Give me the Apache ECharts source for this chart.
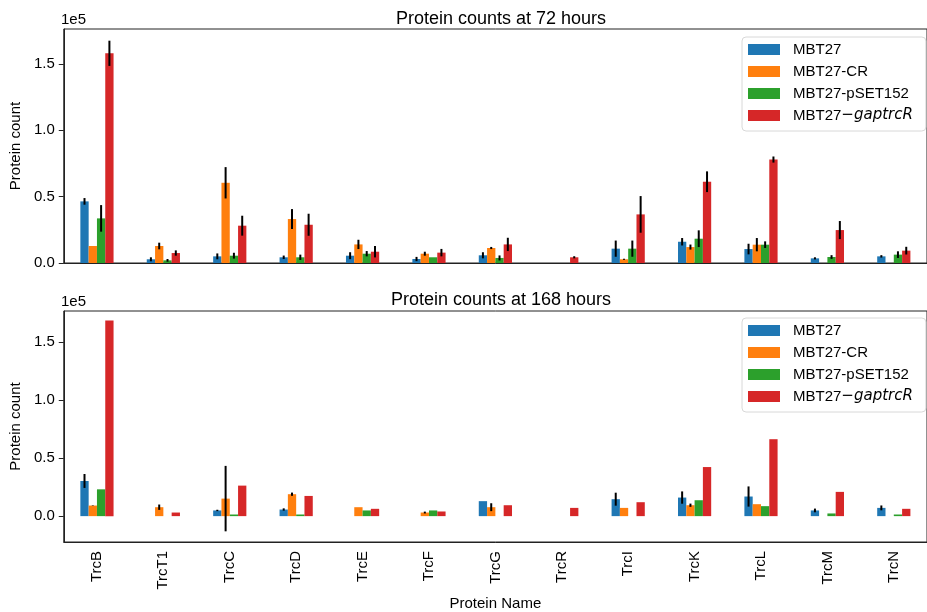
<!DOCTYPE html>
<html>
<head>
<meta charset="utf-8">
<script src="https://cdn.jsdelivr.net/npm/echarts@6/dist/echarts.min.js"></script>
<style>
  html, body { margin: 0; padding: 0; background: #fff; }
  #main { width: 927px; height: 612px; }
</style>
</head>
<body>
<div id="main"></div>
<script>
var proteins = ['TrcB', 'TrcT1', 'TrcC', 'TrcD', 'TrcE', 'TrcF', 'TrcG', 'TrcR', 'TrcI', 'TrcK', 'TrcL', 'TrcM', 'TrcN'];
var strains = ['MBT27', 'MBT27-CR', 'MBT27-pSET152', 'MBT27-gaptrcR'];
var colors = ['#1f77b4', '#ff7f0e', '#2ca02c', '#d62728'];
var yTicks = [0, 50000, 100000, 150000];

// 72 hours: mean counts and error (half length of bar)
var mbt27_72 = [46400, 2800, 5000, 4300, 5500, 3000, 5800, null, 10800, 16000, 10500, 3500, 5000];
var mbt27_72_err = [2500, 1500, 2200, 1300, 2600, 1600, 2300, null, 6100, 2800, 4000, 800, 900];
var cr_72 = [12800, 12800, 60400, 33100, 14000, 7000, 11300, null, 2800, 12000, 13800, null, null];
var cr_72_err = [null, 2500, 11800, 7500, 3500, 1500, 800, null, 400, 1900, 5000, null, null];
var pset_72 = [33600, 2000, 5500, 4300, 7000, 4300, 3800, null, 10800, 18300, 13800, 4500, 6300];
var pset_72_err = [10000, 1000, 2200, 2000, 2000, null, 1900, null, 6100, 6300, 2500, 1400, 2500];
var gap_72 = [157900, 7500, 28100, 28800, 8500, 7800, 14000, 4300, 36600, 61200, 77900, 24800, 9300];
var gap_72_err = [9500, 2000, 7500, 8300, 4300, 2800, 5000, 800, 13800, 7800, 2300, 6800, 2900];

// 168 hours
var mbt27_168 = [30300, null, 4900, 5700, null, null, 12900, null, 14600, 16000, 16900, 4900, 7100];
var mbt27_168_err = [6000, null, 600, 1000, null, null, null, null, 5600, 5300, 8700, 1600, 2100];
var cr_168 = [9100, 7700, 15100, 18900, 7700, 3100, 7700, null, 7100, 9400, 10300, null, null];
var cr_168_err = [200, 2300, 28200, 1400, null, 800, 3400, null, null, 1400, null, null, null];
var pset_168 = [23100, null, 1400, 1400, 4900, 4900, null, null, null, 13700, 8600, 2300, 1400];
var pset_168_err = [null, null, null, null, null, null, null, null, null, null, null, null, null];
var gap_168 = [168600, 3100, 26300, 17400, 6300, 4000, 9400, 7100, 12000, 42300, 66300, 20900, 6300];
var gap_168_err = [null, null, null, null, null, null, null, null, null, null, null, null, null];

var font = "'Liberation Sans', Arial, sans-serif";

function errData(errs, vals) {
    var out = [];
    for (var s = 0; s < vals.length; s++) {
        for (var i = 0; i < vals[s].length; i++) {
            if (vals[s][i] != null && errs[s][i] != null) {
                out.push([i, vals[s][i] - errs[s][i], vals[s][i] + errs[s][i], s]);
            }
        }
    }
    return out;
}

function renderErr(params, api) {
    var band = api.size([1, 0])[0];
    var dx = (api.value(3) - 1.5) * band * 0.125;
    var p1 = api.coord([api.value(0), api.value(1)]);
    var p2 = api.coord([api.value(0), api.value(2)]);
    return {
        type: 'line',
        shape: { x1: p1[0] + dx, y1: p1[1], x2: p2[0] + dx, y2: p2[1] },
        style: { stroke: '#000', lineWidth: 2 }
    };
}

var vals72 = [mbt27_72, cr_72, pset_72, gap_72];
var errs72 = [mbt27_72_err, cr_72_err, pset_72_err, gap_72_err];
var vals168 = [mbt27_168, cr_168, pset_168, gap_168];
var errs168 = [mbt27_168_err, cr_168_err, pset_168_err, gap_168_err];

var series = [];
[vals72, vals168].forEach(function (vals, g) {
    for (var s = 0; s < 4; s++) {
        series.push({
            name: strains[s],
            type: 'bar',
            xAxisIndex: g,
            yAxisIndex: g,
            data: vals[s],
            barWidth: '12.5%',
            barGap: '0%',
            itemStyle: { color: colors[s] },
            emphasis: { disabled: true }
        });
    }
});
series.push({
    type: 'custom', xAxisIndex: 0, yAxisIndex: 0, z: 5,
    renderItem: renderErr, encode: { x: 0, y: [1, 2] },
    data: errData(errs72, vals72)
});
series.push({
    type: 'custom', xAxisIndex: 1, yAxisIndex: 1, z: 5,
    renderItem: renderErr, encode: { x: 0, y: [1, 2] },
    data: errData(errs168, vals168)
});

function legendFor(top) {
    return {
        data: strains,
        orient: 'vertical',
        left: 742,
        top: top,
        icon: 'rect',
        itemWidth: 32,
        itemHeight: 11,
        itemGap: 7,
        padding: [5, 13, 8, 6],
        borderColor: '#d8d8d8',
        borderWidth: 1,
        borderRadius: 4,
        backgroundColor: 'rgba(255,255,255,0.8)',
        selectedMode: false,
        formatter: function (name) {
            return name === 'MBT27-gaptrcR' ? 'MBT27{m|\u2212}{i|gaptrcR}' : name;
        },
        textStyle: {
            fontFamily: font, fontSize: 15, color: '#000', lineHeight: 15,
            padding: [0, 0, 0, 8],
            rich: {
                m: { fontFamily: "'DejaVu Sans'", fontSize: 15, color: '#000' },
                i: { fontFamily: "'DejaVu Sans'", fontStyle: 'italic', fontSize: 15, color: '#000' }
            }
        }
    };
}

function yAxisFor(g, min, max) {
    return {
        type: 'value', gridIndex: g, min: min, max: max,
        name: 'Protein count', nameLocation: 'middle', nameGap: 38,
        nameTextStyle: { fontFamily: font, fontSize: 15, color: '#000' },
        axisLine: { show: true, lineStyle: { color: '#222' } },
        axisTick: { show: true, length: 5, customValues: yTicks, lineStyle: { color: '#222' } },
        axisLabel: {
            customValues: yTicks, margin: 9,
            fontFamily: font, fontSize: 15, color: '#000',
            formatter: function (v) { return (v / 1e5).toFixed(1); }
        },
        splitLine: { show: false }
    };
}

var myChart = echarts.init(document.getElementById('main'));
var option = {
    animation: false,
    title: [
        { text: 'Protein counts at 72 hours', left: 496, textAlign: 'center', top: 5,
          textStyle: { fontFamily: font, fontSize: 18, fontWeight: 'normal', color: '#000' } },
        { text: 'Protein counts at 168 hours', left: 496, textAlign: 'center', top: 286,
          textStyle: { fontFamily: font, fontSize: 18, fontWeight: 'normal', color: '#000' } }
    ],
    graphic: [
        { type: 'text', left: 61, top: 12, style: { text: '1e5', font: '15px ' + font, fill: '#000' } },
        { type: 'text', left: 61, top: 294, style: { text: '1e5', font: '15px ' + font, fill: '#000' } }
    ],
    legend: [legendFor(37), legendFor(318)],
    grid: [
        { left: 61, top: 29, width: 870, height: 234, show: true, borderColor: '#222', borderWidth: 1 },
        { left: 61, top: 311, width: 870, height: 232, show: true, borderColor: '#222', borderWidth: 1 }
    ],
    xAxis: [
        {
            type: 'category', gridIndex: 0, data: proteins,
            axisLine: { onZero: false, lineStyle: { color: '#222' } },
            axisTick: { alignWithLabel: true, length: 5, lineStyle: { color: '#222' } },
            axisLabel: { show: false }
        },
        {
            type: 'category', gridIndex: 1, data: proteins,
            name: 'Protein Name', nameLocation: 'middle', nameGap: 54,
            nameTextStyle: { fontFamily: font, fontSize: 15, color: '#000' },
            axisLine: { onZero: false, lineStyle: { color: '#222' } },
            axisTick: { alignWithLabel: true, length: 5, lineStyle: { color: '#222' } },
            axisLabel: { rotate: 90, interval: 0, margin: 9, fontFamily: font, fontSize: 15, color: '#000' }
        }
    ],
    yAxis: [yAxisFor(0, 0, 176200), yAxisFor(1, -22300, 176800)],
    series: series
};
myChart.setOption(option);
</script>
</body>
</html>
